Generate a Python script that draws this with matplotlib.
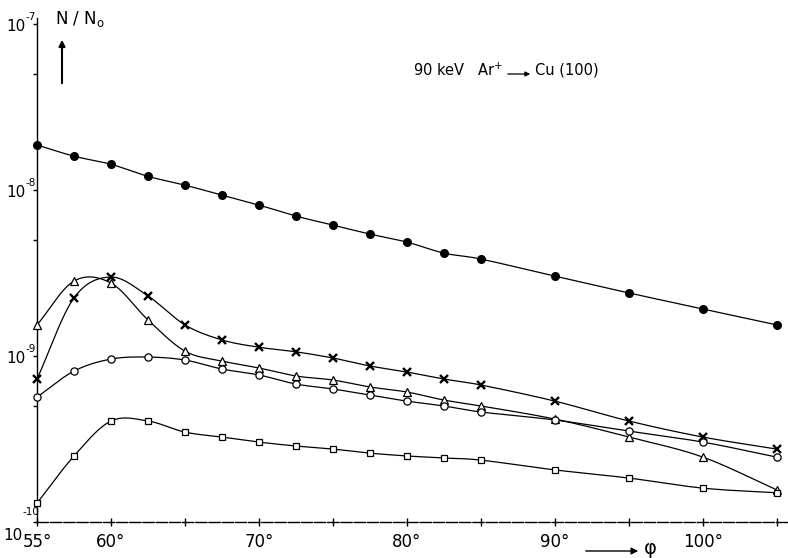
import numpy as np
import matplotlib
matplotlib.use("Agg")
import matplotlib.pyplot as plt
from matplotlib.ticker import FixedLocator, NullFormatter
from matplotlib.transforms import blended_transform_factory

# ---- data (angle phi in degrees, N/N0) ----
phi = [55, 57.5, 60, 62.5, 65, 67.5, 70, 72.5, 75, 77.5, 80, 82.5, 85, 90, 95, 100, 105]

filled_circles = [1.87e-8, 1.60e-8, 1.43e-8, 1.21e-8, 1.07e-8, 9.33e-9, 8.12e-9, 6.97e-9,
                  6.15e-9, 5.43e-9, 4.86e-9, 4.17e-9, 3.84e-9, 3.03e-9, 2.40e-9, 1.92e-9, 1.54e-9]
crosses = [7.27e-10, 2.24e-9, 2.99e-9, 2.30e-9, 1.54e-9, 1.25e-9, 1.13e-9, 1.06e-9,
           9.73e-10, 8.71e-10, 8.01e-10, 7.27e-10, 6.69e-10, 5.35e-10, 4.06e-10, 3.25e-10, 2.75e-10]
triangles = [1.54e-9, 2.83e-9, 2.75e-9, 1.65e-9, 1.07e-9, 9.33e-10, 8.47e-10, 7.58e-10,
             7.17e-10, 6.51e-10, 6.07e-10, 5.43e-10, 5.00e-10, 4.17e-10, 3.25e-10, 2.46e-10, 1.56e-10]
open_circles = [5.66e-10, 8.12e-10, 9.59e-10, 9.86e-10, 9.46e-10, 8.35e-10, 7.69e-10, 6.78e-10,
                6.33e-10, 5.82e-10, 5.35e-10, 5.00e-10, 4.60e-10, 4.12e-10, 3.53e-10, 3.03e-10, 2.46e-10]
squares = [1.30e-10, 2.50e-10, 4.06e-10, 4.06e-10, 3.48e-10, 3.25e-10, 3.03e-10, 2.87e-10,
           2.75e-10, 2.60e-10, 2.50e-10, 2.43e-10, 2.36e-10, 2.06e-10, 1.84e-10, 1.60e-10, 1.50e-10]

x_tick_pos = [55, 60, 65, 70, 75, 80, 85, 90, 95, 100, 105]
x_tick_lab = ["55°", "60°", "", "70°", "", "80°", "", "90°", "", "100°", ""]
y_major = [1e-10, 1e-9, 1e-8, 1e-7]
y_exponents = ["-10", "-9", "-8", "-7"]
y_minor = [5e-10, 5e-9, 5e-8]


def smooth(x, y, n=30):
    """Catmull-Rom curve through points, in (x, log y) space."""
    x = np.asarray(x, float)
    ly = np.log10(np.asarray(y, float))
    P = np.column_stack([x, ly])
    P = np.vstack([2 * P[0] - P[1], P, 2 * P[-1] - P[-2]])
    out = []
    t = np.linspace(0, 1, n, endpoint=False)[:, None]
    for i in range(1, len(P) - 2):
        p0, p1, p2, p3 = P[i - 1], P[i], P[i + 1], P[i + 2]
        seg = 0.5 * ((2 * p1) + (-p0 + p2) * t + (2 * p0 - 5 * p1 + 4 * p2 - p3) * t ** 2
                     + (-p0 + 3 * p1 - 3 * p2 + p3) * t ** 3)
        out.append(seg)
    out.append(P[-2][None, :])
    S = np.vstack(out)
    return S[:, 0], 10 ** S[:, 1]


fig = plt.figure(figsize=(7.88, 5.58), dpi=100)
ax = fig.add_axes([0.047, 0.0645, 0.953, 0.903])
ax.set_yscale("log")
ax.set_xlim(55, 105.75)
ax.set_ylim(1e-10, 10 ** -6.964)

series = [
    (filled_circles, dict(marker="o", ms=5.5, mfc="black", mec="black")),
    (crosses, dict(marker="x", ms=5.5, mew=1.7, mec="black")),
    (triangles, dict(marker="^", ms=6.2, mfc="white", mec="black", mew=0.9)),
    (open_circles, dict(marker="o", ms=5.2, mfc="white", mec="black", mew=0.9)),
    (squares, dict(marker="s", ms=5.0, mfc="white", mec="black", mew=0.9)),
]
for ys, st in series:
    sx, sy = smooth(phi, ys)
    ax.plot(sx, sy, color="black", lw=0.9, zorder=2)
    ax.plot(phi, ys, ls="none", zorder=3, clip_on=False, **st)

for s in ["top", "right"]:
    ax.spines[s].set_visible(False)
ax.spines["left"].set_linewidth(1.0)
ax.spines["bottom"].set_linewidth(1.0)
ax.spines["bottom"].set_linestyle((0, (8, 1.5)))

ax.xaxis.set_major_locator(FixedLocator(x_tick_pos))
ax.set_xticklabels(x_tick_lab, fontsize=12)
ax.tick_params(axis="x", direction="inout", length=6, width=1, pad=5)
ax.xaxis.set_minor_locator(FixedLocator([]))

ax.yaxis.set_major_locator(FixedLocator(y_major))
ax.yaxis.set_major_formatter(NullFormatter())
ax.yaxis.set_minor_locator(FixedLocator(y_minor))
ax.yaxis.set_minor_formatter(NullFormatter())
ax.tick_params(axis="y", which="major", direction="out", length=3, width=1)
ax.tick_params(axis="y", which="minor", direction="out", length=3, width=1)

# y tick labels "10" with raised exponent, left of the spine
trans = blended_transform_factory(ax.transAxes, ax.transData)
for yv, ex in zip(y_major, y_exponents):
    if yv == y_major[0]:
        bx, by, ex_x, ex_y = -14, -13, -15, 10
    else:
        bx, by, ex_x, ex_y = -11, -2, -12, 7
    ax.annotate("10", xy=(0, yv), xycoords=trans, xytext=(bx, by), textcoords="offset pixels",
                ha="right", va="center", fontsize=11, annotation_clip=False)
    ax.annotate(ex, xy=(0, yv), xycoords=trans, xytext=(ex_x, ex_y), textcoords="offset pixels",
                ha="left", va="center", fontsize=7.5, annotation_clip=False)

# annotations
fig.text(55 / 788, 1 - 19 / 558, r"N / N$_\mathrm{o}$", fontsize=12, va="center", ha="left")
fig.add_artist(matplotlib.patches.FancyArrowPatch(
    (62 / 788, 1 - 86 / 558), (62 / 788, 1 - 37 / 558), transform=fig.transFigure,
    arrowstyle="-|>", mutation_scale=9, lw=1.5, color="black"))

fig.text(413 / 788, 1 - 70 / 558, r"90 keV   Ar$^{+}$", fontsize=10.5, va="center", ha="left")
fig.add_artist(matplotlib.patches.FancyArrowPatch(
    (505 / 788, 1 - 74 / 558), (533 / 788, 1 - 74 / 558), transform=fig.transFigure,
    arrowstyle="-|>", mutation_scale=7, lw=0.9, color="black"))
fig.text(535 / 788, 1 - 70 / 558, "Cu (100)", fontsize=10.5, va="center", ha="left")

fig.add_artist(matplotlib.patches.FancyArrowPatch(
    (583 / 788, 1 - 551 / 558), (641 / 788, 1 - 551 / 558), transform=fig.transFigure,
    arrowstyle="-|>", mutation_scale=10, lw=1.0, color="black"))
fig.text(644 / 788, 1 - 548 / 558, "φ", fontsize=14, va="center", ha="left")

fig.savefig("out.png", dpi=100)
